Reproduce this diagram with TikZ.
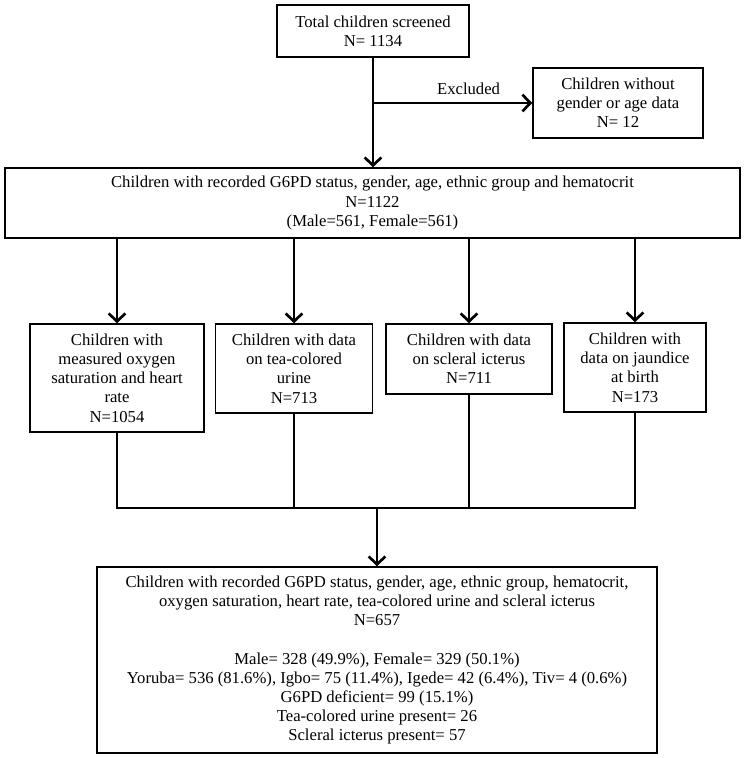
\documentclass[tikz,border=0pt]{standalone}
\usepackage{fontspec}
\setmainfont{Liberation Serif}
\usetikzlibrary{arrows.meta}
\usetikzlibrary{calc}

\begin{document}
\begin{tikzpicture}[x=0.75pt,y=-0.75pt,
    box/.style={draw,line width=1.1pt,inner sep=0pt,align=center,
      font=\fontsize{12.5}{14.4}\selectfont},
    lbl/.style={font=\fontsize{12.5}{14.4}\selectfont},
    arr/.style={line width=1.1pt,
      -{Straight Barb[length=6pt,width=12.5pt,line width=2pt]}},
    lnk/.style={line width=1.1pt}]
  \useasboundingbox (0,0) rectangle (746,758);

  \node (tcs) [box,minimum width=144pt,minimum height=39pt] at (373,31)
    {Total children screened\\N= 1134};
  \node (exc) [box,minimum width=127.5pt,minimum height=52.5pt] at (618,103)
    {Children without\\gender or age data\\N= 12};
  \node (rec) [box,minimum width=551.25pt,minimum height=52.5pt] at (372.5,203)
    {Children with recorded G6PD status, gender, age, ethnic group and hematocrit\\
     N=1122\\(Male=561, Female=561)};

  \node (oxy) [box,minimum width=130.5pt,minimum height=81pt] at (117,378)
    {Children with\\measured oxygen\\saturation and heart\\rate\\N=1054};
  \node (tea) [box,minimum width=117.75pt,minimum height=66.75pt] at (294,368.5)
    {Children with data\\on tea-colored\\urine\\N=713};
  \node (scl) [box,minimum width=124.5pt,minimum height=52.5pt] at (469,359)
    {Children with data\\on scleral icterus\\N=711};
  \node (jau) [box,minimum width=106.5pt,minimum height=66.75pt] at (635,367.5)
    {Children with\\data on jaundice\\at birth\\N=173};

  \node (fin) [box,minimum width=420pt,minimum height=139.5pt] at (377,660)
    {Children with recorded G6PD status, gender, age, ethnic group, hematocrit,\\
     oxygen saturation, heart rate, tea-colored urine and scleral icterus\\
     N=657\\[14.4pt]
     Male= 328 (49.9\%), Female= 329 (50.1\%)\\
     Yoruba= 536 (81.6\%), Igbo= 75 (11.4\%), Igede= 42 (6.4\%), Tiv= 4 (0.6\%)\\
     G6PD deficient= 99 (15.1\%)\\
     Tea-colored urine present= 26\\
     Scleral icterus present= 57};

  \coordinate (brk) at (tcs.south |- exc.west);
  \draw[arr] (tcs.south) -- (rec.north -| tcs.south);
  \draw[arr] (brk) -- (exc.west) node [lbl,pos=.6,above=2pt] {Excluded};

  \draw[arr] (rec.south -| oxy.north) -- (oxy.north);
  \draw[arr] (rec.south -| tea.north) -- (tea.north);
  \draw[arr] (rec.south -| scl.north) -- (scl.north);
  \draw[arr] (rec.south -| jau.north) -- (jau.north);

  \coordinate (jn) at (fin.north |- 0,508);
  \draw[lnk] (oxy.south) -- (oxy.south |- jn) -- (jau.south |- jn) -- (jau.south);
  \draw[lnk] (tea.south) -- (tea.south |- jn);
  \draw[lnk] (scl.south) -- (scl.south |- jn);
  \draw[arr] (jn) -- (fin.north);
\end{tikzpicture}
\end{document}
